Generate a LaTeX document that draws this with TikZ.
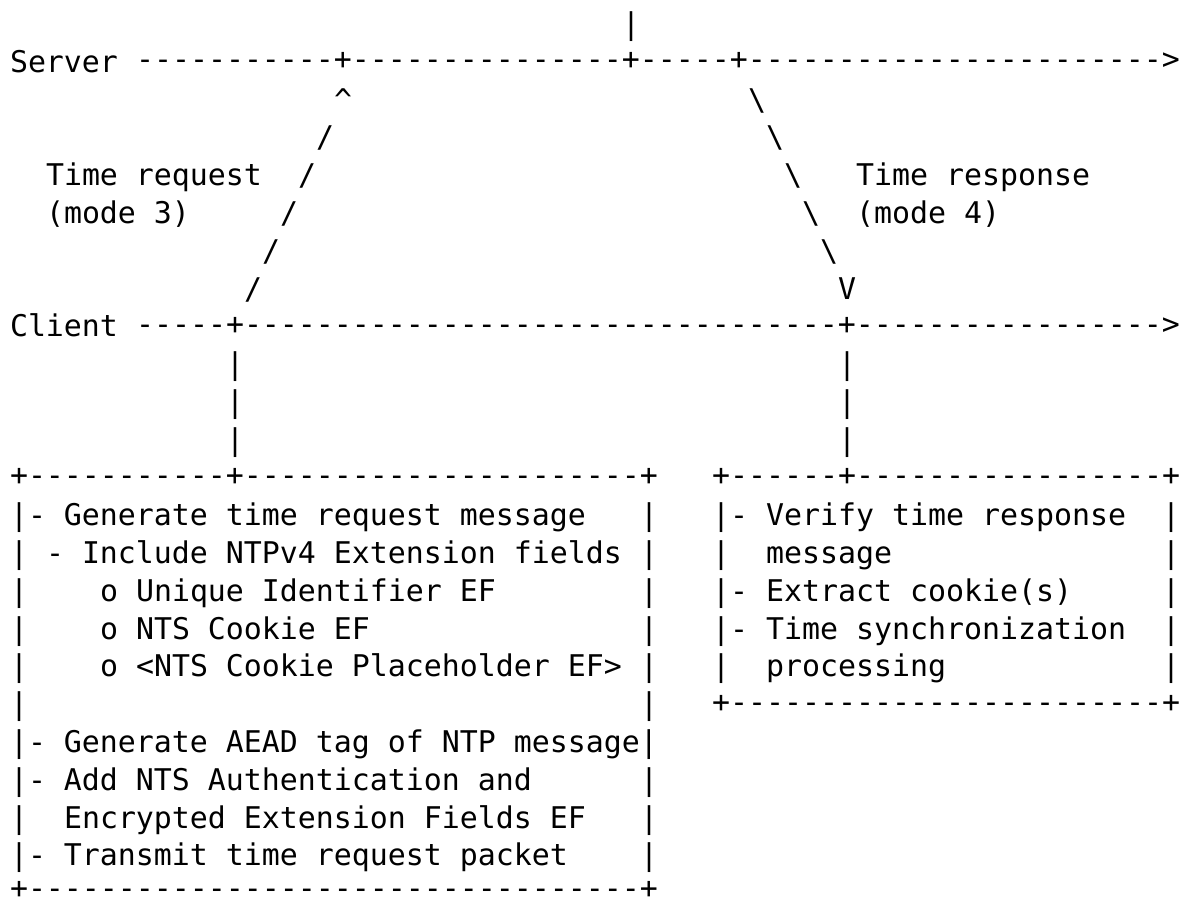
\documentclass[tikz,border=0pt]{standalone}
\usepackage{fontspec}
\newfontfamily\asciifont{DejaVu Sans Mono}[Ligatures={TeXOff,CommonOff}]
\newcommand{\chw}{18}
\newcommand{\lnh}{37.79}
\tikzset{
  asc/.style={anchor=base west, inner sep=0pt, outer sep=0pt, text=black,
    font=\asciifont\fontsize{29.9}{36}\selectfont},
  rule/.style={asc, yshift=2.5pt},
}
% place a text run: name, column, row, text
\newcommand{\run}[4]{\node[asc] (#1) at ({10+\chw*#2},{34.5+\lnh*#3}) {#4};}
% place a run of dashes and pluses (sits a little higher, as in the reference font)
\newcommand{\rrun}[4]{\node[rule] (#1) at ({10+\chw*#2},{34.5+\lnh*#3}) {#4};}
\begin{document}
\begin{tikzpicture}[x=1pt,y=-1pt]
\useasboundingbox (0,0) rectangle (1184,900);
% row 0
\run{r0a}{34}{0}{|}
% row 1 : server time line
\run{server}{0}{1}{Server}
\rrun{serverline}{7}{1}{-----------+---------------+-----+----------------------->}
% row 2
\run{r2a}{18}{2}{\textasciicircum}
\run{r2b}{41}{2}{\textbackslash}
% row 3
\run{r3a}{17}{3}{/}
\run{r3b}{42}{3}{\textbackslash}
% row 4
\run{reqlab}{2}{4}{Time request}
\run{r4a}{16}{4}{/}
\run{r4b}{43}{4}{\textbackslash}
\run{reslab}{47}{4}{Time response}
% row 5
\run{reqmode}{2}{5}{(mode 3)}
\run{r5a}{15}{5}{/}
\run{r5b}{44}{5}{\textbackslash}
\run{resmode}{47}{5}{(mode 4)}
% row 6
\run{r6a}{14}{6}{/}
\run{r6b}{45}{6}{\textbackslash}
% row 7
\run{r7a}{13}{7}{/}
\run{r7b}{46}{7}{V}
% row 8 : client time line
\run{client}{0}{8}{Client}
\rrun{clientline}{7}{8}{-----+---------------------------------+----------------->}
% rows 9-11
\run{r9a}{12}{9}{|}
\run{r9b}{46}{9}{|}
\run{r10a}{12}{10}{|}
\run{r10b}{46}{10}{|}
\run{r11a}{12}{11}{|}
\run{r11b}{46}{11}{|}
% row 12 : box tops
\rrun{bigtop}{0}{12}{+-----------+----------------------+}
\rrun{smalltop}{39}{12}{+------+-----------------+}
% row 13
\run{b13}{0}{13}{|- Generate time request message}
\run{b13r}{35}{13}{|}
\run{s13}{39}{13}{|- Verify time response}
\run{s13r}{64}{13}{|}
% row 14
\run{b14l}{0}{14}{|}
\run{b14}{2}{14}{- Include NTPv4 Extension fields}
\run{b14r}{35}{14}{|}
\run{s14l}{39}{14}{|}
\run{s14}{42}{14}{message}
\run{s14r}{64}{14}{|}
% row 15
\run{b15l}{0}{15}{|}
\run{b15}{5}{15}{o Unique Identifier EF}
\run{b15r}{35}{15}{|}
\run{s15}{39}{15}{|- Extract cookie(s)}
\run{s15r}{64}{15}{|}
% row 16
\run{b16l}{0}{16}{|}
\run{b16}{5}{16}{o NTS Cookie EF}
\run{b16r}{35}{16}{|}
\run{s16}{39}{16}{|- Time synchronization}
\run{s16r}{64}{16}{|}
% row 17
\run{b17l}{0}{17}{|}
\run{b17}{5}{17}{o <NTS Cookie Placeholder EF>}
\run{b17r}{35}{17}{|}
\run{s17l}{39}{17}{|}
\run{s17}{42}{17}{processing}
\run{s17r}{64}{17}{|}
% row 18
\run{b18l}{0}{18}{|}
\run{b18r}{35}{18}{|}
\rrun{smallbot}{39}{18}{+------------------------+}
% row 19
\run{b19}{0}{19}{|- Generate AEAD tag of NTP message|}
% row 20
\run{b20}{0}{20}{|- Add NTS Authentication and}
\run{b20r}{35}{20}{|}
% row 21
\run{b21l}{0}{21}{|}
\run{b21}{3}{21}{Encrypted Extension Fields EF}
\run{b21r}{35}{21}{|}
% row 22
\run{b22}{0}{22}{|- Transmit time request packet}
\run{b22r}{35}{22}{|}
% row 23 (kept just inside the bottom edge)
\rrun{bigbot}{0}{23}{\raisebox{2.5pt}{+----------------------------------+}}
\end{tikzpicture}
\end{document}
